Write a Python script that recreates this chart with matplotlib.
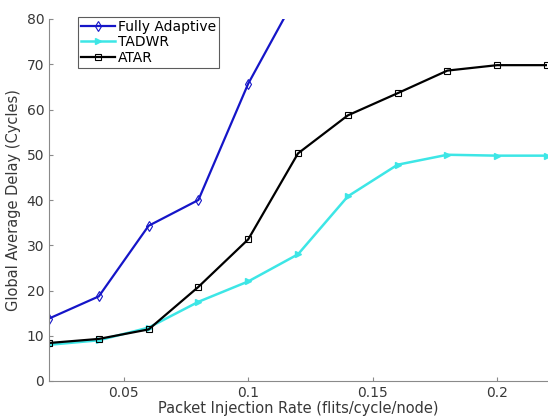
import numpy as np
import matplotlib.pyplot as plt

rate = [0.02, 0.04, 0.06, 0.08, 0.10, 0.12, 0.14, 0.16, 0.18, 0.20, 0.22]
fully_adaptive = [13.8, 18.7, 34.3, 40.0, 65.7, 85.8]
tadwr = [8.0, 9.0, 11.8, 17.5, 22.0, 28.0, 40.8, 47.8, 50.0, 49.8, 49.8]
atar = [8.4, 9.3, 11.4, 20.8, 31.3, 50.3, 58.7, 63.6, 68.6, 69.8, 69.8]

fig = plt.figure(figsize=(5.48, 4.17), dpi=100)
ax = fig.add_axes([49/548, 1 - 381/417, (547 - 49)/548, (381 - 19)/417])

ax.plot(rate[:len(fully_adaptive)], fully_adaptive, color='#1515c8', lw=1.6,
        marker='d', ms=5, mfc='none', mew=0.8, label='Fully Adaptive')
ax.plot(rate, tadwr, color='#3de6e6', lw=1.8, marker='>', ms=5,
        mfc='#3de6e6', label='TADWR')
ax.plot(rate, atar, color='black', lw=1.6, marker='s', ms=4.5, mfc='none',
        mew=0.8, label='ATAR')

ax.set_xlim(0.02, 0.22)
ax.set_ylim(0, 80)
ax.set_xticks([0.05, 0.1, 0.15, 0.2])
ax.set_xticklabels(['0.05', '0.1', '0.15', '0.2'])
ax.set_yticks(np.arange(0, 81, 10))

for s in ['top', 'right']:
    ax.spines[s].set_visible(False)
for s in ['left', 'bottom']:
    ax.spines[s].set_color('#8a8a8a')
ax.tick_params(colors='#383838', labelsize=10, direction='in', length=3)
ax.tick_params(axis='both', color='#8a8a8a')

ax.set_xlabel('Packet Injection Rate (flits/cycle/node)', fontsize=10.5, color='#383838', labelpad=1)
ax.set_ylabel('Global Average Delay (Cycles)', fontsize=10.5, color='#383838', labelpad=4)

leg = ax.legend(loc='upper left', bbox_to_anchor=(0.058, 1.005), fontsize=10,
                frameon=True, fancybox=False, borderpad=0.2, labelspacing=0.1,
                handlelength=2.5, handletextpad=0.2, borderaxespad=0)
leg.get_frame().set_edgecolor('#333333')
leg.get_frame().set_linewidth(0.8)

fig.savefig('out.png', dpi=100)
